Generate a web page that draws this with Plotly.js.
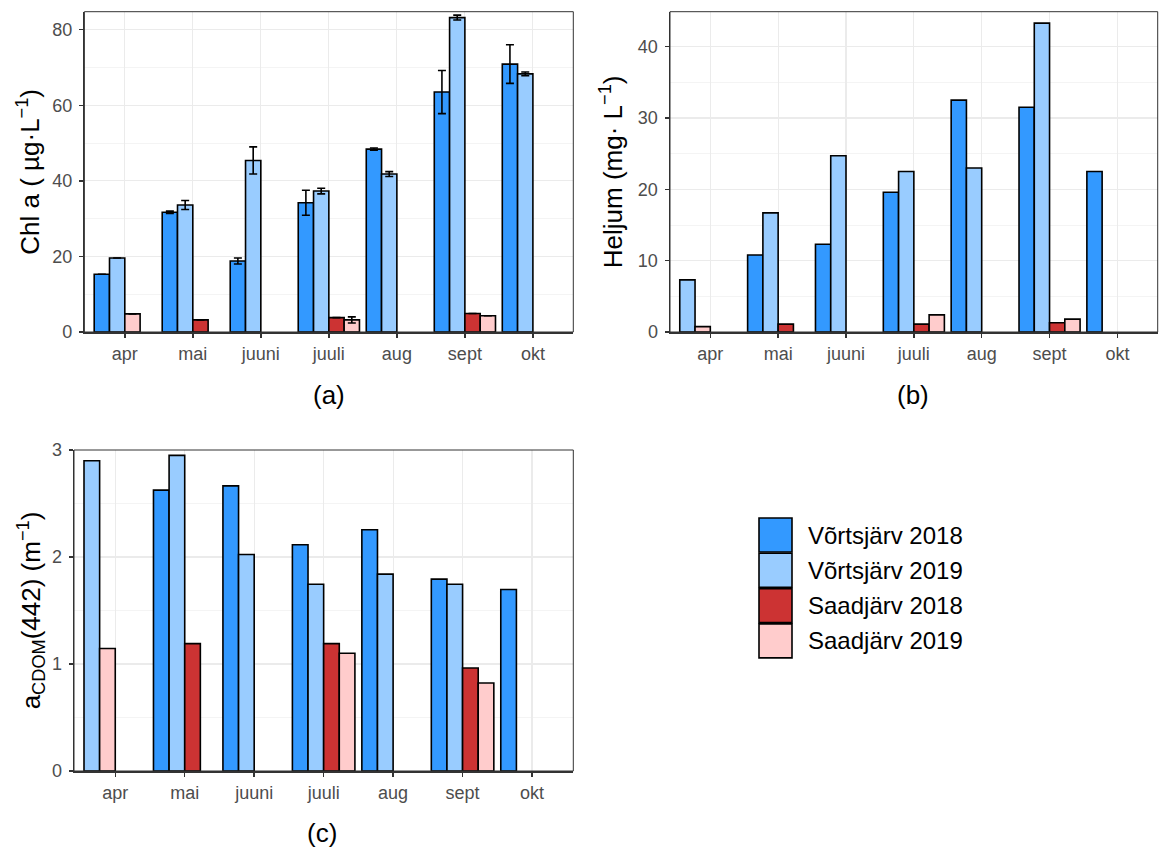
<!DOCTYPE html>
<html>
<head>
<meta charset="utf-8">
<script src="https://cdn.plot.ly/plotly-3.0.1.min.js"></script>
<style>html,body{margin:0;padding:0;background:#fff;}#chart{width:1161px;height:850px;}</style>
</head>
<body>
<div id="chart"></div>
<script>
// ---------------- data ----------------
var months = ['apr', 'mai', 'juuni', 'juuli', 'aug', 'sept', 'okt'];
var seriesNames = ['Võrtsjärv 2018', 'Võrtsjärv 2019', 'Saadjärv 2018', 'Saadjärv 2019'];
var seriesColors = ['#3399FF', '#99CCFF', '#CC3333', '#FFCCCC'];

// (a) Chl a (µg/L)
var chlV2018 = [15.3, 31.7, 18.8, 34.2, 48.4, 63.5, 70.9];
var chlV2018Err = [null, 0.3, 0.8, 3.3, 0.3, 5.7, 5.1];
var chlV2019 = [19.6, 33.6, 45.4, 37.3, 41.8, 83.2, 68.3];
var chlV2019Err = [null, 1.2, 3.6, 0.75, 0.65, 0.65, 0.5];
var chlS2018 = [null, 3.2, null, 3.8, null, 4.9, null];
var chlS2018Err = [null, null, null, null, null, null, null];
var chlS2019 = [4.8, null, null, 3.2, null, 4.3, null];
var chlS2019Err = [null, null, null, 0.8, null, null, null];

// (b) Heljum (mg/L)
var helV2018 = [null, 10.8, 12.3, 19.6, 32.5, 31.5, 22.5];
var helV2019 = [7.3, 16.7, 24.7, 22.5, 23.0, 43.3, null];
var helS2018 = [null, 1.1, null, 1.1, null, 1.3, null];
var helS2019 = [0.75, null, null, 2.4, null, 1.8, null];

// (c) aCDOM(442) (1/m)
var cdomV2018 = [null, 2.625, 2.665, 2.114, 2.254, 1.793, 1.696];
var cdomV2019 = [2.90, 2.95, 2.024, 1.746, 1.84, 1.746, null];
var cdomS2018 = [null, 1.19, null, 1.19, null, 0.963, null];
var cdomS2019 = [1.145, null, null, 1.10, null, 0.823, null];

// ---------------- helpers ----------------
var FONT = 'Liberation Sans, Arial, Helvetica, sans-serif';
var GROUP = 0.9, NS = 4, BW = GROUP / NS;

// bars that exist in a month are packed from the left of the dodge group
function slotOffsets(seriesList) {
  var offs = seriesList.map(function () { return []; });
  for (var m = 0; m < months.length; m++) {
    var k = 0;
    for (var s = 0; s < seriesList.length; s++) {
      var v = seriesList[s][m];
      if (v !== null && v !== undefined) {
        offs[s][m] = -GROUP / 2 + k * BW;
        k++;
      } else {
        offs[s][m] = 0;
      }
    }
  }
  return offs;
}

function makeTraces(seriesList, errList, xa, ya) {
  var offs = slotOffsets(seriesList);
  return seriesList.map(function (vals, s) {
    var t = {
      type: 'bar',
      name: seriesNames[s],
      x: months,
      y: vals,
      xaxis: xa, yaxis: ya,
      width: BW,
      offset: offs[s],
      marker: { color: seriesColors[s], line: { color: '#000000', width: 1.6 } },
      showlegend: false,
      hoverinfo: 'x+y+name'
    };
    if (errList && errList[s]) {
      t.error_y = { type: 'data', array: errList[s], visible: true, color: '#000000', thickness: 1.6, width: 4 };
    }
    return t;
  });
}

var traces = []
  .concat(makeTraces([chlV2018, chlV2019, chlS2018, chlS2019], [chlV2018Err, chlV2019Err, chlS2018Err, chlS2019Err], 'x', 'y'))
  .concat(makeTraces([helV2018, helV2019, helS2018, helS2019], null, 'x2', 'y2'))
  .concat(makeTraces([cdomV2018, cdomV2019, cdomS2018, cdomS2019], null, 'x3', 'y3'));

var W = 1161, H = 850;
function px(x) { return x / W; }
function py(y) { return 1 - y / H; }

function xAxis(domain, anchor) {
  return {
    domain: domain, anchor: anchor, type: 'category', categoryarray: months, categoryorder: 'array',
    range: [-0.594, months.length - 1 + 0.594],
    showgrid: true, gridcolor: '#EBEBEB', gridwidth: 1.1,
    showline: true, linecolor: '#333333', linewidth: 1.5,
    ticks: 'outside', ticklen: 4, tickwidth: 1.4, tickcolor: '#333333',
    tickfont: { family: FONT, size: 18, color: '#4D4D4D' },
    ticklabelstandoff: 1,
    zeroline: false, fixedrange: true
  };
}
function yAxis(domain, anchor, range, dtick, minorDtick, titleText, standoff) {
  return {
    domain: domain, anchor: anchor, range: range, dtick: dtick, tick0: 0,
    showgrid: true, gridcolor: '#EBEBEB', gridwidth: 1.1,
    minor: { dtick: minorDtick, tick0: 0, showgrid: true, gridcolor: '#EBEBEB', gridwidth: 0.55, ticks: '' },
    showline: true, linecolor: '#333333', linewidth: 1.5,
    ticks: 'outside', ticklen: 4, tickwidth: 1.4, tickcolor: '#333333',
    tickfont: { family: FONT, size: 18, color: '#4D4D4D' },
    ticklabelstandoff: 3,
    zeroline: false, fixedrange: true,
    title: { text: titleText, font: { family: FONT, size: 26, color: '#000000' }, standoff: standoff }
  };
}

var domA = { x: [px(84.4), px(573.3)], y: [py(332), py(11.7)] };
var domB = { x: [px(670), px(1157.7)], y: [py(332), py(11.7)] };
var domC = { x: [px(74), px(573.3)], y: [py(771), py(450)] };

var shapes = [];
[['x', 'y'], ['x2', 'y2'], ['x3', 'y3']].forEach(function (p) {
  shapes.push({ type: 'rect', xref: p[0] + ' domain', yref: p[1] + ' domain', x0: 0, x1: 1, y0: 0, y1: 1,
    line: { color: '#333333', width: 1 }, fillcolor: 'rgba(0,0,0,0)', layer: 'above' });
});

var labelFont = { family: FONT, size: 26, color: '#000' };
var annotations = [
  { text: '(a)', x: px(329), y: py(395), xref: 'paper', yref: 'paper', xanchor: 'center', yanchor: 'middle', showarrow: false, font: labelFont },
  { text: '(b)', x: px(913), y: py(395), xref: 'paper', yref: 'paper', xanchor: 'center', yanchor: 'middle', showarrow: false, font: labelFont },
  { text: '(c)', x: px(322), y: py(833), xref: 'paper', yref: 'paper', xanchor: 'center', yanchor: 'middle', showarrow: false, font: labelFont }
];

// custom legend (large key boxes like the original)
var legX0 = 759, legBoxW = 33, legBoxH = 34, legY0 = 518, legStep = 35.3;
seriesNames.forEach(function (name, i) {
  var top = legY0 + i * legStep;
  shapes.push({ type: 'rect', xref: 'paper', yref: 'paper',
    x0: px(legX0), x1: px(legX0 + legBoxW), y0: py(top + legBoxH), y1: py(top),
    fillcolor: seriesColors[i], line: { color: '#000000', width: 1.6 }, layer: 'above' });
  annotations.push({ text: name, xref: 'paper', yref: 'paper', x: px(806), y: py(top + legBoxH / 2),
    xanchor: 'left', yanchor: 'middle', showarrow: false, font: { family: FONT, size: 24, color: '#000' } });
});

var layout = {
  width: W, height: H,
  margin: { l: 0, r: 0, t: 0, b: 0 },
  paper_bgcolor: '#FFFFFF', plot_bgcolor: '#FFFFFF',
  barmode: 'overlay',
  showlegend: false,
  font: { family: FONT },
  xaxis: xAxis(domA.x, 'y'),
  yaxis: yAxis(domA.y, 'x', [0, 84.76], 20, 10, 'Chl a ( µg·L<sup>−1</sup>)', 5),
  xaxis2: xAxis(domB.x, 'y2'),
  yaxis2: yAxis(domB.y, 'x2', [0, 44.9], 10, 5, 'Heljum (mg· L<sup>−1</sup>)', 8),
  xaxis3: xAxis(domC.x, 'y3'),
  yaxis3: yAxis(domC.y, 'x3', [0, 3.0], 1, 0.5, 'a<sub>CDOM</sub>(442) (m<sup>−1</sup>)', 4),
  shapes: shapes,
  annotations: annotations
};

Plotly.newPlot('chart', traces, layout, { staticPlot: true, displayModeBar: false });
</script>
</body>
</html>
